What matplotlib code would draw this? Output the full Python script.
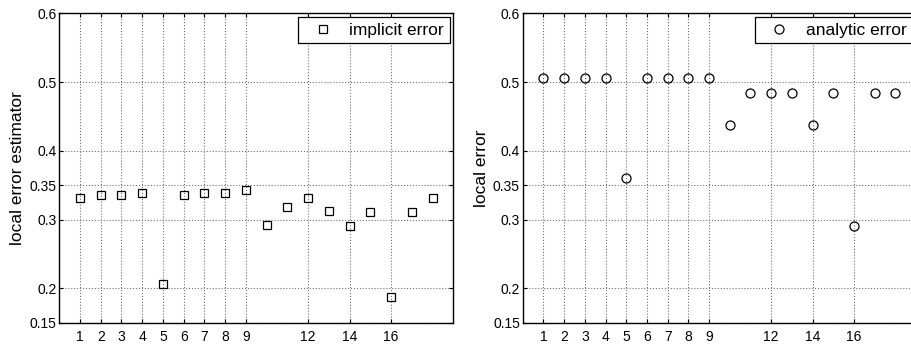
import numpy as np
import matplotlib
matplotlib.use("Agg")
import matplotlib.pyplot as plt

plt.rcParams['font.family'] = ['Liberation Sans', 'DejaVu Sans']

# datos
pasos = list(range(1, 19))
error_implicito = [0.332, 0.336, 0.336, 0.339, 0.206, 0.336, 0.339, 0.339, 0.343,
                   0.292, 0.318, 0.331, 0.313, 0.290, 0.311, 0.188, 0.311, 0.331]
error_analitico = [0.506, 0.506, 0.506, 0.506, 0.361, 0.506, 0.506, 0.506, 0.506,
                   0.438, 0.484, 0.484, 0.484, 0.438, 0.484, 0.290, 0.484, 0.484]
xticks = [1, 2, 3, 4, 5, 6, 7, 8, 9, 12, 14, 16]
yticks = [0.15, 0.2, 0.3, 0.35, 0.4, 0.5, 0.6]
ytick_labels = ["0.15", "0.2", "0.3", "0.35", "0.4", "0.5", "0.6"]

fig = plt.figure(figsize=(9.12, 3.45), dpi=100)
ax1 = fig.add_axes([0.065, 0.0646, 0.432, 0.8968])
ax2 = fig.add_axes([0.5731, 0.0646, 0.4315, 0.8968])


def preparar(ax, ylabel):
    ax.set_xlim(0, 19)
    ax.set_ylim(0.15, 0.6)
    ax.set_xticks(xticks)
    ax.set_yticks(yticks)
    ax.set_yticklabels(ytick_labels)
    ax.tick_params(direction='in', length=3, labelsize=10, width=0.8,
                   top=True, right=True)
    ax.tick_params(axis='x', pad=5.5)
    ax.tick_params(axis='y', pad=2)
    ax.grid(True, linestyle=':', color='#707070', linewidth=0.8)
    ax.set_ylabel(ylabel, fontsize=12.5, labelpad=3)
    for s in ax.spines.values():
        s.set_linewidth(1.0)


ax1.plot(pasos, error_implicito, linestyle='none', marker='s', markersize=5.5,
         markerfacecolor='none', markeredgecolor='black', markeredgewidth=0.9,
         label='implicit error')
preparar(ax1, "local error estimator")

ax2.plot(pasos, error_analitico, linestyle='none', marker='o', markersize=6.5,
         markerfacecolor='none', markeredgecolor='black', markeredgewidth=0.9,
         label='analytic error')
preparar(ax2, "local error")

for ax in (ax1, ax2):
    leg = ax.legend(loc='upper right', fontsize=12.5, fancybox=False, framealpha=1,
                    edgecolor='black', borderaxespad=0.2, handlelength=2.2,
                    borderpad=0.33, handletextpad=0.45)
    leg.get_frame().set_linewidth(0.9)

fig.savefig("out.png", dpi=100)
